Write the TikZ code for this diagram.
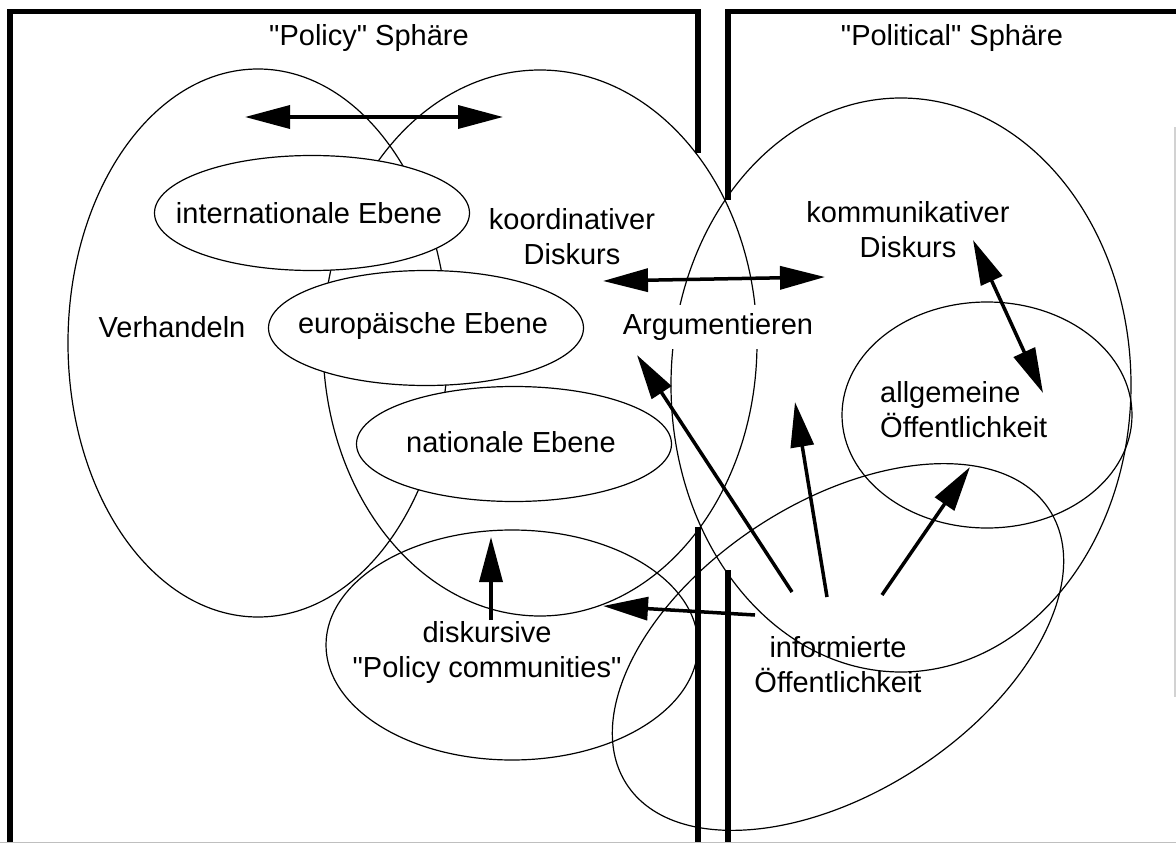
\documentclass[tikz,border=0pt]{standalone}
\usepackage{fontspec}
\setmainfont{Liberation Sans}[Ligatures=TeXOff]
\usetikzlibrary{shapes.geometric,arrows.meta}

\tikzset{
  frame/.style={line width=5.5pt, line join=miter},
  blob/.style={ellipse, draw, line width=1.2pt, inner sep=0pt},
  level/.style={blob, fill=white, minimum width=315pt, minimum height=115pt},
  txt/.style={font=\fontsize{29}{35}\selectfont, align=center, inner sep=0pt},
  tip/.style={line width=3.5pt, -{Triangle[length=45pt,width=23pt]}},
  tips/.style={line width=3.5pt,
    {Triangle[length=45pt,width=23pt]}-{Triangle[length=45pt,width=23pt]}}
}

\begin{document}
\begin{tikzpicture}[x=1pt,y=-1pt]
  \useasboundingbox (0,0) rectangle (1176,843);

  % the two spheres
  \draw[frame] (10,843) -- (10,11.5) -- (698,11.5) -- (698,153);
  \draw[frame] (698,527) -- (698,843);
  \draw[frame] (1176,11.5) -- (728,11.5) -- (728,200);
  \draw[frame] (728,570) -- (728,843);
  \draw[gray!50, line width=1pt] (0,842.5) -- (1176,842.5);
  \draw[gray!35, line width=1.5pt] (1175,127) -- (1175,697);

  \node[txt] (policy) at (369,38) {"Policy" Sphäre};
  \node[txt] (political) at (952,38) {"Political" Sphäre};

  % big ellipses
  \node[blob, minimum width=380pt, minimum height=548pt] (verh) at (258,343) {};
  \node[blob, minimum width=434pt, minimum height=546pt] (koord) at (540,343) {};
  \node[blob, minimum width=460pt, minimum height=574pt] (komm) at (901,385) {};
  \node[blob, minimum width=290pt, minimum height=226pt] (allg) at (987,415) {};
  \node[blob, minimum width=372pt, minimum height=230pt] (comm) at (512,645) {};
  \node[blob, minimum width=504pt, minimum height=290pt, rotate=33] (inform) at (838,647) {};

  % levels
  \node[level] (intl) at (312,213) {};
  \node[level] (europ) at (426,328) {};
  \node[level] (nat) at (514,444) {};
  \node[txt] (intltxt) at (309,213) {internationale Ebene};
  \node[txt] (europtxt) at (423,326) {europäische Ebene};
  \node[txt] (nattxt) at (511,442) {nationale Ebene};

  \node[txt] (verhtxt) at (172,327) {Verhandeln};
  \node[txt] (koordtxt) at (572,237) {koordinativer\\Diskurs};
  \node[txt] (kommtxt) at (908,230) {kommunikativer\\Diskurs};
  \node[txt, fill=white, inner sep=8pt] (argu) at (718,327) {Argumentieren};
  \node[txt, align=left, anchor=west] (allgtxt) at (880,410) {allgemeine\\Öffentlichkeit};
  \node[txt] (commtxt) at (487,652) {diskursive\\"Policy communities"};
  \node[txt] (inftxt) at (838,665) {informierte\\Öffentlichkeit};

  % arrows
  \coordinate (a1) at (245,117);  \coordinate (a2) at (503,117);
  \coordinate (b1) at (603,281);  \coordinate (b2) at (825,277);
  \coordinate (c1) at (973,240);  \coordinate (c2) at (1043,393);
  \draw[tips] (a1) -- (a2);
  \draw[tips] (b1) -- (b2);
  \draw[tips] (c1) -- (c2);

  \coordinate (d1) at (491,620);  \coordinate (d2) at (491,537);
  \coordinate (e1) at (755,615);  \coordinate (e2) at (603,606);
  \coordinate (f1) at (792,592);  \coordinate (f2) at (637,355);
  \coordinate (g1) at (827,597);  \coordinate (g2) at (795,402);
  \coordinate (h1) at (882,595);  \coordinate (h2) at (970,467);
  \foreach \from/\to in {d1/d2,e1/e2,f1/f2,g1/g2,h1/h2}
    \draw[tip] (\from) -- (\to);

\end{tikzpicture}
\end{document}
